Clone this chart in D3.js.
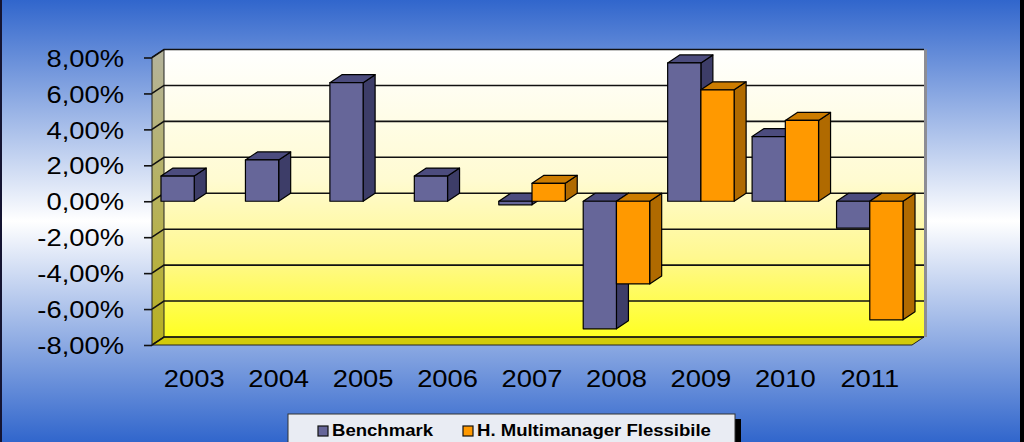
<!DOCTYPE html>
<html>
<head>
<meta charset="utf-8">
<script src="https://cdn.jsdelivr.net/npm/d3@7"></script>
<style>
  html, body { margin: 0; padding: 0; background: #fff; }
  svg { display: block; }
  text { font-family: "Liberation Sans", Arial, sans-serif; fill: #000; }
</style>
</head>
<body>
<div id="chart"></div>
<script>
const years = ['2003', '2004', '2005', '2006', '2007', '2008', '2009', '2010', '2011'];
const seriesNames = ['Benchmark', 'H. Multimanager Flessibile'];
const benchmark = [1.4, 2.3, 6.6, 1.4, -0.2, -7.1, 7.7, 3.6, -1.5];
const multimanager = [null, null, null, null, 1.0, -4.6, 6.2, 4.5, -6.6];
const yTicks = [-8, -6, -4, -2, 0, 2, 4, 6, 8];

const width = 1024;
const height = 442;
const plotLeft = 152, plotRight = 912, plotTop = 57.5, plotBottom = 345;
const dx = 12, dy = -8; // depth offset of the 3D box
const sx = 1.14; // the picture is a bit stretched sideways

const colors = [
  { front: '#666699', top: '#4c4c7e', side: '#3d3d68' },
  { front: '#ff9900', top: '#cc7c00', side: '#b06a00' },
];

const itLocale = d3.formatLocale({ decimal: ',', thousands: '.', grouping: [3], currency: ['€', ''], minus: '-' });
const pct = (v) => itLocale.format('.2f')(v) + '%';

const svg = d3.select('#chart').append('svg')
  .attr('width', width).attr('height', height).attr('viewBox', `0 0 ${width} ${height}`);

const defs = svg.append('defs');
const bg = defs.append('linearGradient').attr('id', 'bg').attr('x1', 0).attr('y1', 0).attr('x2', 0).attr('y2', 1);
bg.append('stop').attr('offset', '0').attr('stop-color', '#3166cc');
bg.append('stop').attr('offset', '0.5').attr('stop-color', '#ffffff');
bg.append('stop').attr('offset', '1').attr('stop-color', '#3166cc');

const wall = defs.append('linearGradient').attr('id', 'wall').attr('x1', 0).attr('y1', 0).attr('x2', 0).attr('y2', 1);
wall.append('stop').attr('offset', '0').attr('stop-color', '#ffffff');
wall.append('stop').attr('offset', '0.45').attr('stop-color', '#fffbd2');
wall.append('stop').attr('offset', '0.72').attr('stop-color', '#fff890');
wall.append('stop').attr('offset', '1').attr('stop-color', '#ffff22');

const side = defs.append('linearGradient').attr('id', 'side').attr('x1', 0).attr('y1', 0).attr('x2', 0).attr('y2', 1);
side.append('stop').attr('offset', '0').attr('stop-color', '#b4b39c');
side.append('stop').attr('offset', '1').attr('stop-color', '#b8b020');

svg.append('rect').attr('width', width).attr('height', height).attr('fill', 'url(#bg)');
svg.append('rect').attr('x', 0).attr('width', 2).attr('height', height).attr('fill', '#141432');
svg.append('rect').attr('x', 1020).attr('width', 4).attr('height', height).attr('fill', '#000');

const x = d3.scaleBand().domain(years).range([plotLeft, plotRight]).paddingInner(0.213).paddingOuter(0.1065);
const xs = d3.scaleBand().domain(seriesNames).range([0, x.bandwidth()]);
const y = d3.scaleLinear().domain([-8, 8]).range([plotBottom, plotTop]);

const poly = (pts) => 'M' + pts.map((p) => p.join(',')).join('L') + 'Z';

// walls and floor
svg.append('path')
  .attr('d', poly([[plotLeft + dx, plotTop + dy], [plotRight + dx, plotTop + dy], [plotRight + dx, plotBottom + dy], [plotLeft + dx, plotBottom + dy]]))
  .attr('fill', 'url(#wall)');
svg.append('rect').attr('x', plotRight + dx).attr('y', plotTop + dy).attr('width', 3).attr('height', plotBottom - plotTop)
  .attr('fill', '#8d8d94');
svg.append('path').attr('d', poly([[plotLeft, plotTop], [plotLeft + dx, plotTop + dy], [plotLeft + dx, plotBottom + dy], [plotLeft, plotBottom]]))
  .attr('fill', 'url(#side)').attr('stroke', '#222').attr('stroke-width', 1);
svg.append('path').attr('d', poly([[plotLeft, plotBottom], [plotLeft + dx, plotBottom + dy], [plotRight + dx, plotBottom + dy], [plotRight, plotBottom]]))
  .attr('fill', '#d2ca0a').attr('stroke', '#222').attr('stroke-width', 1);

// gridlines on side wall and back wall
const grid = svg.append('g').attr('stroke', '#111').attr('stroke-width', 1.6).attr('fill', 'none');
grid.selectAll('path').data(yTicks).enter().append('path')
  .attr('d', (v) => `M${plotLeft},${y(v)}L${plotLeft + dx},${y(v) + dy}L${plotRight + dx},${y(v) + dy}`);

// y axis
const yAxis = svg.append('g').attr('transform', `translate(${plotLeft},0)`)
  .call(d3.axisLeft(y).tickValues(yTicks).tickSize(8).tickFormat(pct));
yAxis.select('.domain').remove();
yAxis.selectAll('line').attr('stroke', '#111').attr('stroke-width', 1.6);
yAxis.selectAll('text')
  .attr('x', 0).attr('dy', '0.36em')
  .attr('transform', `translate(-28,0) scale(${sx},1)`)
  .attr('font-size', 24).attr('text-anchor', 'end')
  .style('font-family', '"Liberation Sans", Arial, sans-serif').attr('fill', '#000');

// bars
const rows = years.flatMap((yr, i) => [
  { year: yr, s: 0, v: benchmark[i] },
  { year: yr, s: 1, v: multimanager[i] },
]).filter((d) => d.v !== null);

const bars = svg.append('g').attr('stroke', '#000').attr('stroke-width', 1.2).attr('stroke-linejoin', 'round');
rows.forEach((d) => {
  const x0 = x(d.year) + xs(seriesNames[d.s]);
  const x1 = x0 + xs.bandwidth();
  const yt = y(Math.max(0, d.v));
  const yb = y(Math.min(0, d.v));
  const c = colors[d.s];
  const g = bars.append('g');
  g.append('path').attr('d', poly([[x1, yt], [x1 + dx, yt + dy], [x1 + dx, yb + dy], [x1, yb]])).attr('fill', c.side);
  g.append('path').attr('d', poly([[x0, yt], [x0 + dx, yt + dy], [x1 + dx, yt + dy], [x1, yt]])).attr('fill', c.top);
  g.append('path').attr('d', poly([[x0, yt], [x1, yt], [x1, yb], [x0, yb]])).attr('fill', c.front);
});

// x labels
svg.append('g').selectAll('text').data(years).enter().append('text')
  .attr('transform', (d) => `translate(${x(d) + x.bandwidth() / 2},387) scale(${sx},1)`)
  .attr('text-anchor', 'middle').attr('font-size', 24)
  .text((d) => d);

// legend
const legend = svg.append('g');
legend.append('rect').attr('x', 293).attr('y', 419).attr('width', 448).attr('height', 40).attr('fill', '#000');
legend.append('rect').attr('x', 288).attr('y', 414).attr('width', 447).attr('height', 40)
  .attr('fill', '#e9ecf3').attr('stroke', '#333').attr('stroke-width', 1);
const legendX = [318, 463];
seriesNames.forEach((name, i) => {
  legend.append('rect').attr('x', legendX[i]).attr('y', 426).attr('width', 10).attr('height', 10)
    .attr('fill', colors[i].front).attr('stroke', '#111').attr('stroke-width', 1.2);
  legend.append('text')
    .attr('transform', `translate(${legendX[i] + 14},436) scale(1.16,1)`)
    .attr('font-size', 16).attr('font-weight', 'bold')
    .text(name);
});
</script>
</body>
</html>
